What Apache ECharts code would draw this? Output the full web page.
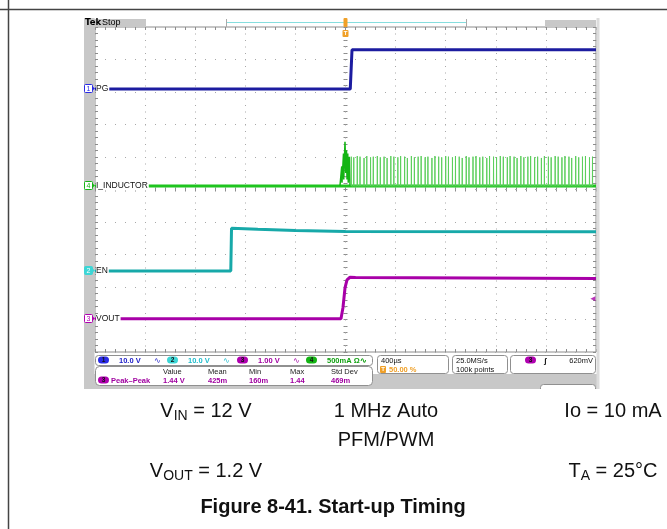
<!DOCTYPE html>
<html>
<head>
<meta charset="utf-8">
<script src="https://cdn.jsdelivr.net/npm/echarts@6/dist/echarts.min.js"></script>
<style>
  html, body { margin: 0; padding: 0; background: #fff; }
  #app { width: 667px; height: 529px; }
</style>
</head>
<body>
<div id="app"></div>
<script>
// channel settings: name, units per division, ground marker (divisions above screen bottom)
const chNames = ["PG", "EN", "VOUT", "I_INDUCTOR"];
const chNum = ["1", "2", "3", "4"];
const chScale = [10, 10, 1, 0.5];
const chGround = [8.09, 2.49, 1.02, 5.11];
const chColor = ["#1c1ca0", "#17a9a9", "#a800a8", "#1ec41e"];

// waveforms, time in µs (400 µs/div, trigger at 0)
const pgWave = [[-2000, 0], [38, 0], [52, 12.1], [2000, 12.1]];
const enWave = [[-2000, 0], [-916, 0], [-910, 13.2], [-700, 12.9], [-400, 12.5], [0, 12.2], [2000, 12.1]];
const voutWave = [[-2000, 0], [-36, 0], [-20, 0.35], [-4, 0.95], [12, 1.2], [36, 1.28], [80, 1.27], [2000, 1.24]];
const iBase = [[-2000, 0], [2000, 0]];
const iSpike = [[-44, 0], [-30, 0.3], [-28, 0.05], [-16, 0.5], [-14, 0.1], [-4, 0.68], [2, 0.2],
  [8, 0.55], [12, 0.1], [18, 0.5], [22, 0.05], [30, 0.45], [36, 0]];
// PFM pulses: [time µs, peak A]
const iPulses = [
  [46, 0.45], [66, 0.44], [94, 0.46], [116, 0.45], [148, 0.43], [170, 0.46], [200, 0.44], [222, 0.45],
  [254, 0.46], [278, 0.44], [308, 0.45], [332, 0.43], [362, 0.46], [386, 0.45], [418, 0.44], [440, 0.46],
  [472, 0.45], [494, 0.43], [526, 0.46], [550, 0.44], [580, 0.45], [604, 0.46], [636, 0.44], [658, 0.45],
  [690, 0.43], [714, 0.46], [744, 0.45], [768, 0.44], [800, 0.46], [822, 0.45], [854, 0.44], [878, 0.46],
  [908, 0.45], [932, 0.43], [964, 0.46], [986, 0.44], [1018, 0.45], [1042, 0.46], [1072, 0.44], [1096, 0.45],
  [1128, 0.43], [1150, 0.46], [1182, 0.45], [1206, 0.44], [1236, 0.46], [1260, 0.45], [1292, 0.44], [1314, 0.46],
  [1346, 0.45], [1370, 0.43], [1400, 0.46], [1424, 0.44], [1456, 0.45], [1478, 0.46], [1510, 0.44], [1534, 0.45],
  [1564, 0.43], [1588, 0.46], [1620, 0.45], [1642, 0.44], [1674, 0.46], [1698, 0.45], [1728, 0.44], [1752, 0.46],
  [1784, 0.45], [1806, 0.43], [1838, 0.46], [1862, 0.44], [1892, 0.45], [1916, 0.46], [1948, 0.44], [1972, 0.45]
];
const trigLevel = 0.62; // V on ch3

const pulseLine = [];
iPulses.forEach(function (p) {
  pulseLine.push([p[0] - 1, 0], [p[0], p[1]], [p[0] + 1, 0]);
});

const app = document.getElementById("app");
const myChart = echarts.init(app, null, { renderer: "canvas" });

const gridCol = "#8c8c8c";
const tickAxis = function (pos, inside, onZero, len) {
  return {
    axisLine: { show: false, onZero: !!onZero, onZeroAxisIndex: 0 },
    axisTick: { show: true, inside: inside, length: len || 3, lineStyle: { color: gridCol } },
    minorTick: { show: true, splitNumber: 5, length: len || 3, lineStyle: { color: gridCol } },
    axisLabel: { show: false },
    splitLine: { show: false },
    position: pos
  };
};

const xBase = { type: "value", min: -2000, max: 2000, interval: 400, gridIndex: 0 };
const xAxes = [
  Object.assign({}, xBase, tickAxis("bottom", true, false), {
    splitLine: { show: true, lineStyle: { color: "#a8a8a8", type: [1, 5.5], width: 1 } }
  }),
  Object.assign({}, xBase, tickAxis("top", true, false)),
  Object.assign({}, xBase, tickAxis("bottom", true, true, 2)),
  Object.assign({}, xBase, tickAxis("bottom", false, true, 2))
];

const yBase = { type: "value", min: -5, max: 5, interval: 1, gridIndex: 0 };
const yAxes = [
  Object.assign({}, yBase, tickAxis("left", true, false), {
    splitLine: { show: true, lineStyle: { color: "#a8a8a8", type: [1, 9], width: 1 } }
  }),
  Object.assign({}, yBase, tickAxis("right", true, false)),
  Object.assign({}, yBase, tickAxis("left", true, true, 2)),
  Object.assign({}, yBase, tickAxis("left", false, true, 2))
];
// hidden per-channel axes (4..7)
for (let i = 0; i < 4; i++) {
  yAxes.push({
    type: "value", gridIndex: 0, show: false,
    min: -chGround[i] * chScale[i], max: (10 - chGround[i]) * chScale[i],
    axisLine: { onZero: false }
  });
}

const lineSeries = function (name, data, yIdx, color, width, z) {
  return {
    name: name, type: "line", xAxisIndex: 0, yAxisIndex: yIdx, data: data,
    showSymbol: false, symbol: "none", animation: false, z: z || 2,
    lineStyle: { color: color, width: width }
  };
};

const option = {
  animation: false,
  backgroundColor: "#ffffff",
  grid: { left: 95, top: 27, width: 501, height: 325, show: true, borderColor: gridCol, borderWidth: 1, backgroundColor: "#ffffff", z: 0 },
  xAxis: xAxes,
  yAxis: yAxes,
  series: [
    lineSeries("PG", pgWave, 4, chColor[0], 3),
    lineSeries("EN", enWave, 5, chColor[1], 3),
    lineSeries("VOUT", voutWave, 6, chColor[2], 3),
    lineSeries("I_INDUCTOR", iBase, 7, chColor[3], 3),
    lineSeries("I_INDUCTOR spike", iSpike, 7, "#14b414", 1.5),
    lineSeries("I_INDUCTOR pulses", pulseLine, 7, "#5ccf5c", 1),
    {
      type: "scatter", xAxisIndex: 0, yAxisIndex: 6, data: [[1975, trigLevel]],
      symbol: "triangle", symbolRotate: 90, symbolSize: 5, animation: false,
      itemStyle: { color: chColor[2] }
    }
  ]
};
myChart.setOption(option);

// screen furniture
const ui = "Liberation Sans";
const txt = function (x, y, s, color, size, extra) {
  return { type: "text", x: x, y: y, z: 20, silent: true,
    style: Object.assign({ text: s, fill: color || "#000", fontSize: size || 7.5, fontFamily: ui, verticalAlign: "middle", align: "left" }, extra || {}) };
};
const rect = function (x, y, w, h, fill, stroke, r, z) {
  return { type: "rect", z: z || 10, silent: true, shape: { x: x, y: y, width: w, height: h, r: r || 0 },
    style: { fill: fill, stroke: stroke || null, lineWidth: 1 } };
};
const oval = function (x, y, num, color) {
  return [rect(x, y, 11, 7, color, null, 3.5, 11), txt(x + 5.5, y + 3.7, num, "#111", 6.5, { align: "center", fontWeight: "bold" })];
};

const g = [];
// page frame lines
g.push({ type: "line", z: 5, shape: { x1: 0, y1: 9.5, x2: 667, y2: 9.5 }, style: { stroke: "#444", lineWidth: 1.5 } });
g.push({ type: "line", z: 5, shape: { x1: 8.5, y1: 0, x2: 8.5, y2: 529 }, style: { stroke: "#444", lineWidth: 1.5 } });
// scope side strips
g.push(rect(84, 18, 10.5, 371, "#c8c8c8"));
g.push(rect(596.5, 18, 3, 371, "#dcdcdc"));
g.push(rect(84, 374, 515, 15, "#c8c8c8", null, 0, 9));
// header
g.push(rect(84, 19, 62, 8, "#c8c8c8"));
g.push(txt(85, 23, "Tek", "#000", 8.5, { fontWeight: "bold", fontFamily: "DejaVu Sans" }));
g.push(txt(102, 22.5, "Stop", "#000", 9));
g.push(rect(545, 20, 51, 7, "#c8c8c8"));
g.push({ type: "line", z: 10, shape: { x1: 227, y1: 22.5, x2: 466, y2: 22.5 }, style: { stroke: "#86dede", lineWidth: 1 } });
g.push({ type: "line", z: 10, shape: { x1: 226.5, y1: 19, x2: 226.5, y2: 27 }, style: { stroke: "#aaa", lineWidth: 1 } });
g.push({ type: "line", z: 10, shape: { x1: 466.5, y1: 19, x2: 466.5, y2: 27 }, style: { stroke: "#aaa", lineWidth: 1 } });

// bottom readouts
g.push(rect(95.5, 355.5, 277, 10, "#fff", "#909090", 3));
g.push(rect(95.5, 366.5, 277, 19, "#fff", "#909090", 4));
g.push(rect(377.5, 355.5, 71, 18, "#fff", "#909090", 3));
g.push(rect(452.5, 355.5, 55, 18, "#fff", "#909090", 3));
g.push(rect(510.5, 355.5, 85, 18, "#fff", "#909090", 3));
g.push(rect(540.5, 384.5, 55, 8, "#fff", "#909090", 3, 10));
g.push(rect(84, 389, 520, 8, "#fff", null, 0, 12));

const scaleText = ["10.0 V", "10.0 V", "1.00 V", "500mA Ω∿"];
const scaleCol = ["#2020c8", "#20bccc", "#a000a0", "#10a010"];
const ovalCol = ["#2a2ae6", "#3cd6d6", "#b000b0", "#14b414"];
const rowX = [98, 167, 237, 306];
for (let i = 0; i < 4; i++) {
  oval(rowX[i], 356.5, chNum[i], ovalCol[i]).forEach(function (e) { g.push(e); });
  g.push(txt(rowX[i] + 21, 360.5, scaleText[i], scaleCol[i], 7.5, { fontWeight: "bold" }));
  if (i < 3) g.push(txt(rowX[i] + 56, 360.5, "∿", scaleCol[i], 7.5));
}
const measHead = ["Value", "Mean", "Min", "Max", "Std Dev"];
const measVal = ["1.44 V", "425m", "160m", "1.44", "469m"];
const measX = [163, 208, 249, 290, 331];
oval(98, 376.5, "3", ovalCol[2]).forEach(function (e) { g.push(e); });
g.push(txt(111, 380.5, "Peak\u2013Peak", "#a000a0", 7.5, { fontWeight: "bold" }));
for (let i = 0; i < measHead.length; i++) {
  g.push(txt(measX[i], 371.5, measHead[i], "#222", 7.5));
  g.push(txt(measX[i], 380.5, measVal[i], "#a000a0", 7.5, { fontWeight: "bold" }));
}
g.push(txt(381, 360.5, "400µs", "#111", 7.5));
g.push(rect(380, 366, 6, 7, "#f0a028", null, 1, 11));
g.push(txt(383, 369.7, "T", "#fff", 6, { align: "center", fontWeight: "bold" }));
g.push(txt(389, 369.5, "50.00 %", "#f0a028", 7.5, { fontWeight: "bold" }));
g.push(txt(456, 360.5, "25.0MS/s", "#111", 7.5));
g.push(txt(456, 369.5, "100k points", "#111", 7.5));
oval(525, 356.5, "3", ovalCol[2]).forEach(function (e) { g.push(e); });
g.push(txt(544, 360.5, "ʃ", "#111", 8, { fontWeight: "bold" }));
g.push(txt(593, 360.5, "620mV", "#111", 7.5, { align: "right" }));

// trigger position marker
const tx = myChart.convertToPixel({ xAxisIndex: 0 }, 0);
g.push(rect(tx - 2, 18, 4, 9, "#f0a028", null, 1, 11));
g.push(rect(tx - 3, 30, 6, 7, "#f0a028", null, 1, 11));
g.push(txt(tx, 33.7, "T", "#fff", 6, { align: "center", fontWeight: "bold" }));

// channel ground markers + names
const markFill = ["#fff", "#3cd6d6", "#fff", "#fff"];
const markStroke = ["#2a2ae6", "#3cd6d6", "#b000b0", "#14b414"];
for (let i = 0; i < 4; i++) {
  const y = Math.round(myChart.convertToPixel({ yAxisIndex: 4 + i }, 0));
  g.push(rect(84.5, y - 4.5, 8, 8, markFill[i], markStroke[i], 1, 12));
  g.push({ type: "polygon", z: 12, silent: true, shape: { points: [[92.5, y - 2.5], [95, y - 0.5], [92.5, y + 1.5]] }, style: { fill: markStroke[i] } });
  g.push(txt(88.5, y, chNum[i], i === 1 ? "#fff" : markStroke[i], 7, { align: "center" }));
  g.push(txt(96, y, chNames[i], "#111", 8.5, { backgroundColor: "#fff", padding: [0, 1, 0, 0] }));
}

// caption (conditions table, cells centred)
const cap = "Liberation Sans";
const rich = {
  m: { fontSize: 20, fontFamily: cap, lineHeight: 24, verticalAlign: "middle", fill: "#111", color: "#111" },
  s: { fontSize: 14, fontFamily: cap, lineHeight: 12, verticalAlign: "bottom", fill: "#111", color: "#111" }
};
const capText = function (x, y, s, extra) {
  return { type: "text", x: x, y: y, z: 20, silent: true,
    style: Object.assign({ text: s, rich: rich, fill: "#111", fontSize: 20, fontFamily: cap, align: "center", verticalAlign: "middle" }, extra || {}) };
};
g.push(capText(206, 411, "{m|V}{s|IN}{m| = 12 V}"));
g.push(capText(386, 411, "1 MHz Auto"));
g.push(capText(613, 411, "Io = 10 mA"));
g.push(capText(386, 440, "PFM/PWM"));
g.push(capText(206, 471, "{m|V}{s|OUT}{m| = 1.2 V}"));
g.push(capText(613, 471, "{m|T}{s|A}{m| = 25°C}"));
g.push(capText(333, 507, "Figure 8-41. Start-up Timing", { fontWeight: "bold" }));

myChart.setOption({ graphic: g });
</script>
</body>
</html>
